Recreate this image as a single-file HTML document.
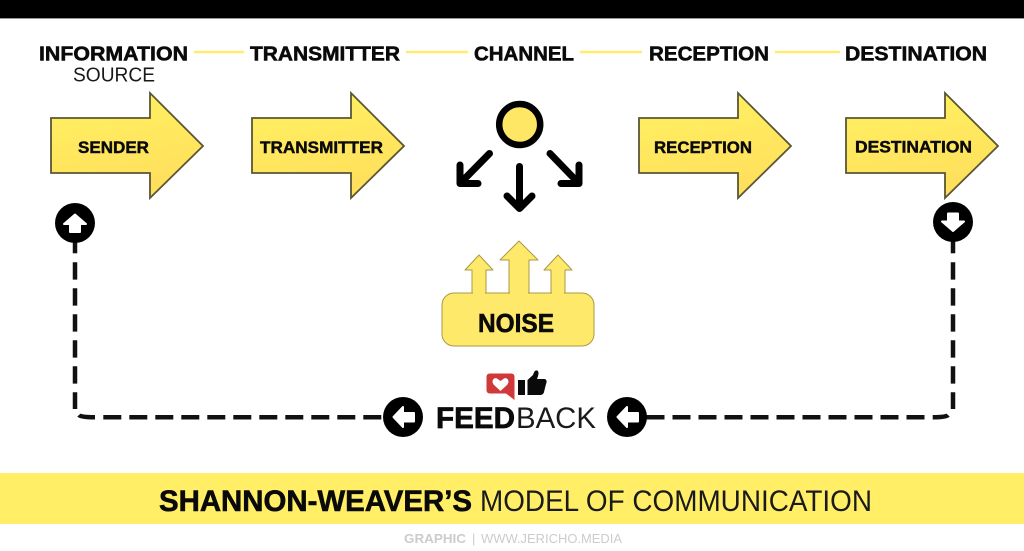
<!DOCTYPE html>
<html><head><meta charset="utf-8"><style>
html,body{margin:0;padding:0;background:#fff;width:1024px;height:551px;overflow:hidden}
svg{display:block;font-family:"Liberation Sans",sans-serif}
.b{font-weight:700;fill:#0a0a0a}
.h{font-size:20px;stroke:#0a0a0a;stroke-width:.55px}
.a{font-size:17px;stroke:#0a0a0a;stroke-width:.45px}
.l{fill:#1a1a1a}
</style></head><body>
<svg width="1024" height="551" viewBox="0 0 1024 551" xmlns="http://www.w3.org/2000/svg">
<defs>
<linearGradient id="g" x1="0" y1="0" x2="0.25" y2="1"><stop offset="0" stop-color="#FFF262"/><stop offset="1" stop-color="#FFDF5C"/></linearGradient>
<path id="arr" d="M51 118H150V93L203 146L150 198V173H51Z" fill="url(#g)" stroke="#5a5535" stroke-width="1.8" stroke-linejoin="miter"/>
</defs>
<rect width="1024" height="18" fill="#000"/>
<rect y="18" width="1024" height="1" fill="#999"/>

<g stroke="#FFEB70" stroke-width="2.4">
<path d="M194 52H244M406 52H468M580 52H642M775 52H840"/>
</g>

<g class="b">
<text class="h" x="39" y="60.5" textLength="149" lengthAdjust="spacingAndGlyphs">INFORMATION</text>
<text class="h" x="250" y="60.5" textLength="150" lengthAdjust="spacingAndGlyphs">TRANSMITTER</text>
<text class="h" x="474" y="60.5" textLength="100" lengthAdjust="spacingAndGlyphs">CHANNEL</text>
<text class="h" x="649" y="60.5" textLength="120" lengthAdjust="spacingAndGlyphs">RECEPTION</text>
<text class="h" x="845" y="60.5" textLength="142" lengthAdjust="spacingAndGlyphs">DESTINATION</text>
</g>
<text class="l" x="73" y="81.5" font-size="20" textLength="82" lengthAdjust="spacingAndGlyphs">SOURCE</text>

<use href="#arr"/>
<use href="#arr" x="201"/>
<use href="#arr" x="588"/>
<use href="#arr" x="795"/>

<g class="b">
<text class="a" x="78" y="153" textLength="71" lengthAdjust="spacingAndGlyphs">SENDER</text>
<text class="a" x="260" y="153" textLength="123" lengthAdjust="spacingAndGlyphs">TRANSMITTER</text>
<text class="a" x="654" y="153" textLength="98" lengthAdjust="spacingAndGlyphs">RECEPTION</text>
<text class="a" x="855" y="152.5" textLength="117" lengthAdjust="spacingAndGlyphs">DESTINATION</text>
</g>

<circle cx="519.7" cy="124.5" r="20.5" fill="#FFE766" stroke="#000" stroke-width="6.5"/>
<g fill="none" stroke="#000" stroke-width="7" stroke-linecap="round" stroke-linejoin="round">
<path d="M489.5 153.5L460 183.5M460 165V183.5H478"/>
<path d="M550 153.5L579 183.5M579 165V183.5H561"/>
<path d="M519.5 166.5V208.5M507 196L519.5 208.5L532 196"/>
</g>

<g fill="#FFE96B" stroke="#a89a45" stroke-width="1" stroke-linejoin="round">
<path d="M472 296V270H465L479 255L493 270H486V296Z"/>
<path d="M551 296V270H544L558 255L572 270H565V296Z"/>
<path d="M509 296V260H500L519 241L538 260H529V296Z"/>
<path d="M454 293H582A12 12 0 0 1 594 305V334A12 12 0 0 1 582 346H454A12 12 0 0 1 442 334V305A12 12 0 0 1 454 293Z"/>
</g>
<g fill="#FFE96B"><rect x="473" y="291" width="12" height="5"/><rect x="510" y="291" width="18" height="5"/><rect x="552" y="291" width="12" height="5"/></g>
<text class="b" x="478" y="332" font-size="26" stroke="#0a0a0a" stroke-width=".6" textLength="76" lengthAdjust="spacingAndGlyphs">NOISE</text>

<g fill="none" stroke="#111" stroke-width="4.5">
<path d="M75 240V253.3"/>
<path d="M75 262.3V409" stroke-dasharray="17.3 8.7"/>
<path d="M79 415Q81 417.3 95 417.3"/>
<path d="M103.3 417.3H382" stroke-dasharray="18 8"/>
<path d="M953 240V253.3"/>
<path d="M953 262.3V409" stroke-dasharray="17.3 8.7"/>
<path d="M948 415Q946 417.3 932.7 417.3"/>
<path d="M924.5 417.3H646" stroke-dasharray="18 8"/>
</g>

<g fill="#000">
<circle cx="75" cy="223" r="20"/><circle cx="953" cy="222" r="20"/>
<circle cx="403" cy="417" r="20"/><circle cx="627" cy="417" r="20"/>
</g>
<g fill="#fff" stroke="#fff" stroke-width="2" stroke-linejoin="round">
<path d="M75 214.5L86 224H80V232H70V224H64Z"/>
<path d="M953 231L964 221.5H958V213.5H948V221.5H942Z"/>
<path d="M393.5 417L403 407V413H414V421.5H403V427Z"/>
<path d="M617.5 417L627 407V413H638V421.5H627V427Z"/>
</g>

<path d="M490 373.5H511Q514.5 373.5 514.5 377V400L506 393.5H490Q486.5 393.5 486.5 390V377Q486.5 373.5 490 373.5Z" fill="#D0383A"/>
<path d="M500.5 391L494 385C490.5 381 494 377 497 378.5L500.5 381L504 378.5C507 377 510.5 381 507 385Z" fill="#fff"/>
<g fill="#0a0a0a">
<rect x="518" y="380" width="7" height="15"/>
<path d="M527.5 380L533 375C534 372 535 370 537 370.5C539.5 371.5 538.5 375 537 379H544C547 379 547 382 546 384L544 392C543.5 394 542 395 540 395H527.5Z"/>
</g>

<text class="b" x="436" y="428" font-size="29.5" stroke="#0a0a0a" stroke-width=".7" textLength="79" lengthAdjust="spacingAndGlyphs">FEED</text>
<text class="l" x="516" y="428" font-size="29.5" textLength="80" lengthAdjust="spacingAndGlyphs">BACK</text>

<rect y="473" width="1024" height="51" fill="#FFEE66"/>
<text class="b" x="159" y="511" font-size="30" stroke="#0a0a0a" stroke-width=".6" textLength="313" lengthAdjust="spacingAndGlyphs">SHANNON-WEAVER’S</text>
<text class="l" x="480" y="511" font-size="30" textLength="392" lengthAdjust="spacingAndGlyphs">MODEL OF COMMUNICATION</text>

<text x="404" y="543" font-size="13" font-weight="700" fill="#ccc" textLength="62" lengthAdjust="spacingAndGlyphs">GRAPHIC</text>
<text x="472" y="543" font-size="13" fill="#ccc">|</text>
<text x="481" y="543" font-size="13" fill="#ccc" textLength="141" lengthAdjust="spacingAndGlyphs">WWW.JERICHO.MEDIA</text>
</svg>
</body></html>
